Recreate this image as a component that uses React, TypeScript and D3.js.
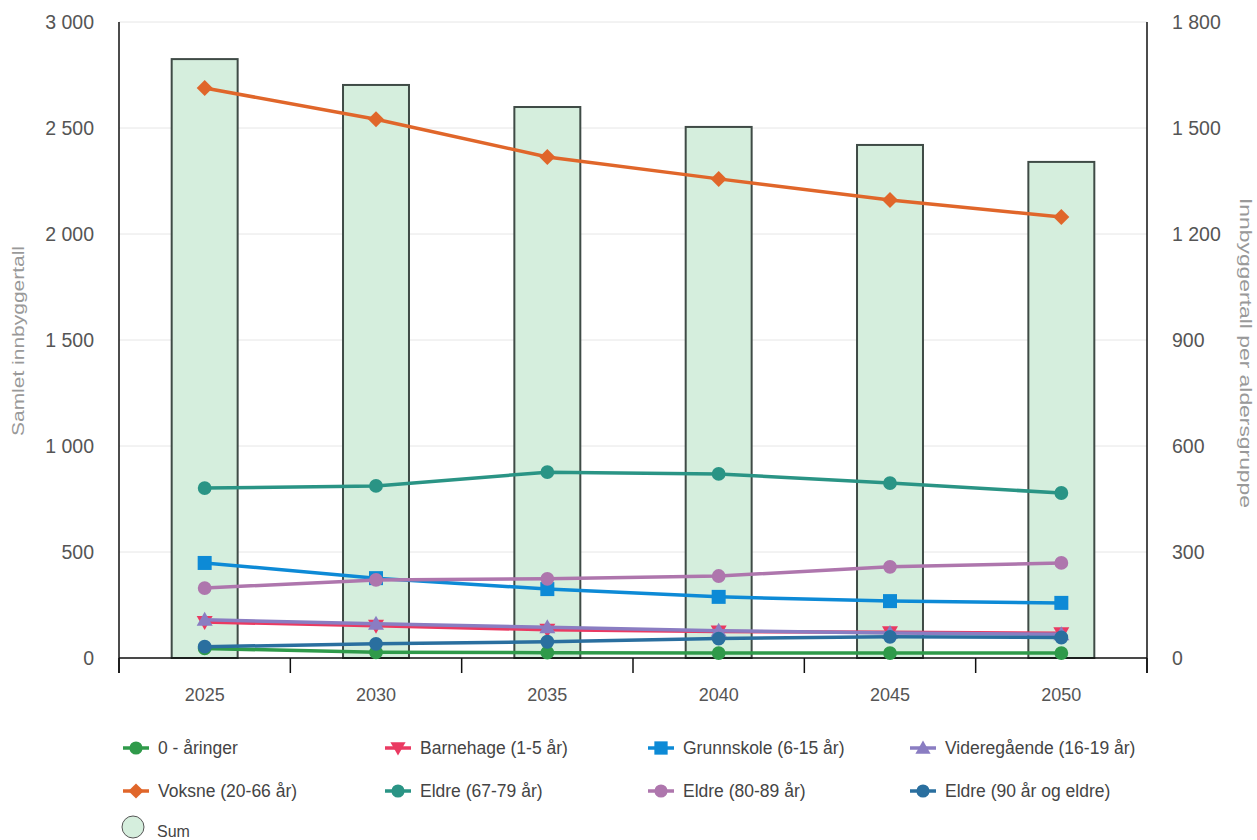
import React from "react";
import * as d3 from "d3";

const years = ["2025", "2030", "2035", "2040", "2045", "2050"];
const sumValues = [2825, 2703, 2599, 2505, 2420, 2340];
const nullaringer = [27, 16, 15, 14, 14, 14];
const barnehage = [102, 91, 80, 75, 73, 70];
const grunnskole = [269, 226, 195, 173, 161, 156];
const videregaende = [108, 97, 87, 77, 71, 67];
const voksne = [1613, 1525, 1418, 1356, 1296, 1248];
const eldre6779 = [481, 487, 526, 521, 495, 467];
const eldre8089 = [198, 221, 224, 232, 258, 269];
const eldre90 = [32, 40, 46, 55, 60, 58];
const leftTicks = [0, 500, 1000, 1500, 2000, 2500, 3000];
const rightTicks = [0, 300, 600, 900, 1200, 1500, 1800];

type Shape = "circle" | "triangleDown" | "square" | "triangle" | "diamond";
const series: { name: string; values: number[]; color: string; shape: Shape }[] = [
  { name: "0 - åringer", values: nullaringer, color: "#2f9a4a", shape: "circle" },
  { name: "Barnehage (1-5 år)", values: barnehage, color: "#ea3a62", shape: "triangleDown" },
  { name: "Grunnskole (6-15 år)", values: grunnskole, color: "#0d8ad6", shape: "square" },
  { name: "Videregående (16-19 år)", values: videregaende, color: "#8a7dc2", shape: "triangle" },
  { name: "Voksne (20-66 år)", values: voksne, color: "#e0662a", shape: "diamond" },
  { name: "Eldre (67-79 år)", values: eldre6779, color: "#2a9485", shape: "circle" },
  { name: "Eldre (80-89 år)", values: eldre8089, color: "#ae76ad", shape: "circle" },
  { name: "Eldre (90 år og eldre)", values: eldre90, color: "#2a6f9f", shape: "circle" },
];

const fmt = (v: number) => d3.format(",")(v).replace(/,/g, " ");

function markerPath(shape: Shape): string {
  switch (shape) {
    case "circle":
      return d3.symbol(d3.symbolCircle, 150)() as string;
    case "square":
      return "M-7,-7H7V7H-7Z";
    case "diamond":
      return "M0,-8L8,0L0,8L-8,0Z";
    case "triangle":
      return "M0,-8L8,6L-8,6Z";
    case "triangleDown":
      return "M0,8L8,-6L-8,-6Z";
  }
}

export default function App() {
  const W = 1257, H = 840;
  const left = 119, right = 1147, top = 22, bottom = 658;
  const x = d3.scaleBand<string>().domain(years).range([left, right]);
  const yL = d3.scaleLinear().domain([0, 3000]).range([bottom, top]);
  const yR = d3.scaleLinear().domain([0, 1800]).range([bottom, top]);
  const barW = x.bandwidth() * 0.385;
  const line = d3
    .line<number>()
    .x((_, i) => (x(years[i]) as number) + x.bandwidth() / 2)
    .y((d) => yR(d));
  const boundaries = years.map((y) => x(y) as number).concat([right]);

  const legendCols = [136, 398, 661, 923];
  const legendRows = [748, 791];

  return (
    <svg width={W} height={H} style={{ position: "absolute", left: 0, top: 0, fontFamily: "Liberation Sans, Arial, sans-serif" }}>
      <rect width={W} height={H} fill="#fff" />
      {leftTicks.map((t) => (
        <line key={t} x1={left} x2={right} y1={yL(t)} y2={yL(t)} stroke="#e6e6e6" strokeWidth={1} />
      ))}
      {leftTicks.map((t) => (
        <text key={"l" + t} x={94} y={yL(t)} dy="0.35em" textAnchor="end" fontSize={19.5} fill="#555">
          {fmt(t)}
        </text>
      ))}
      {rightTicks.map((t) => (
        <text key={"r" + t} x={1172} y={yR(t)} dy="0.35em" textAnchor="start" fontSize={19.5} fill="#555">
          {fmt(t)}
        </text>
      ))}
      <text
        transform={`translate(24,341) rotate(-90)`}
        textAnchor="middle"
        fontSize={16}
        fill="#999"
        textLength={190}
        lengthAdjust="spacingAndGlyphs"
      >
        Samlet innbyggertall
      </text>
      <text
        transform={`translate(1240,353) rotate(90)`}
        textAnchor="middle"
        fontSize={16}
        fill="#999"
        textLength={310}
        lengthAdjust="spacingAndGlyphs"
      >
        Innbyggertall per aldersgruppe
      </text>
      {years.map((yr, i) => (
        <rect
          key={yr}
          x={(x(yr) as number) + x.bandwidth() / 2 - barW / 2}
          y={yL(sumValues[i])}
          width={barW}
          height={bottom - yL(sumValues[i])}
          fill="#d5eedd"
          stroke="#3f4b46"
          strokeWidth={2}
        />
      ))}
      <line x1={left} x2={left} y1={top} y2={673} stroke="#111" strokeWidth={1.5} />
      <line x1={right} x2={right} y1={top} y2={673} stroke="#111" strokeWidth={1.5} />
      <line x1={left} x2={right} y1={bottom} y2={bottom} stroke="#111" strokeWidth={1.5} />
      {boundaries.map((b, i) => (
        <line key={"tk" + i} x1={b} x2={b} y1={bottom} y2={673} stroke="#111" strokeWidth={1.5} />
      ))}
      {years.map((yr) => (
        <text key={"x" + yr} x={(x(yr) as number) + x.bandwidth() / 2} y={701} textAnchor="middle" fontSize={18} fill="#555">
          {yr}
        </text>
      ))}
      {series.map((s) => (
        <g key={s.name}>
          <path d={line(s.values) as string} fill="none" stroke={s.color} strokeWidth={3.5} strokeLinejoin="round" />
          {s.values.map((v, i) => (
            <path
              key={i}
              transform={`translate(${(x(years[i]) as number) + x.bandwidth() / 2},${yR(v)})`}
              d={markerPath(s.shape)}
              fill={s.color}
            />
          ))}
        </g>
      ))}
      {series.map((s, i) => {
        const cx = legendCols[i % 4];
        const cy = legendRows[Math.floor(i / 4)];
        return (
          <g key={"lg" + s.name}>
            <line x1={cx - 13} x2={cx + 13} y1={cy} y2={cy} stroke={s.color} strokeWidth={3.5} />
            <path transform={`translate(${cx},${cy}) scale(0.95)`} d={markerPath(s.shape)} fill={s.color} />
            <text x={cx + 22} y={cy} dy="0.35em" fontSize={17.5} fill="#444">
              {s.name}
            </text>
          </g>
        );
      })}
      <circle cx={133} cy={827} r={11} fill="#d5eedd" stroke="#555" strokeWidth={1} />
      <text x={157} y={831} dy="0.35em" fontSize={16} fill="#444">
        Sum
      </text>
    </svg>
  );
}
